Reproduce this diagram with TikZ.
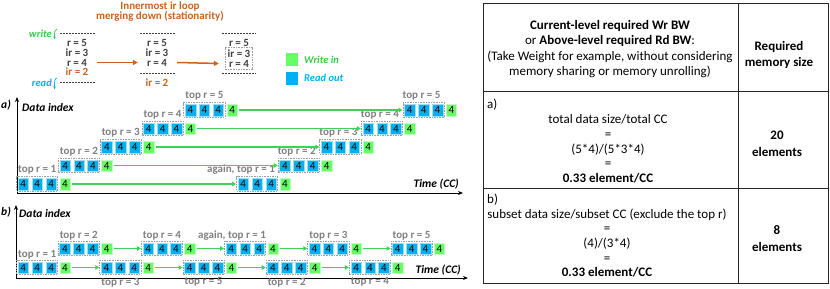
\documentclass[tikz,border=0pt]{standalone}
\usepackage{fontspec}
\setmainfont{Carlito}
\usetikzlibrary{arrows.meta,fit}
\definecolor{blueC}{HTML}{00B0F0}
\definecolor{greenC}{HTML}{66FF66}
\definecolor{greenL}{HTML}{3CD25A}
\definecolor{greenT}{HTML}{3CC84A}
\definecolor{orangeC}{HTML}{C8621E}
\definecolor{grayL}{HTML}{7F7F7F}
\definecolor{grayB}{HTML}{A0A0A0}
\definecolor{darkT}{HTML}{404040}
\newcommand{\myfs}[2]{\fontsize{#1}{#2}\selectfont}
\newcommand{\myblk}[3]{%
 \node[bsq] (#1a) at ({#2+5.25},{#3}) {4};
 \node[bsq] (#1b) at ({#2+19.15},{#3}) {4};
 \node[bsq] (#1c) at ({#2+33.05},{#3}) {4};
 \node[gsq] (#1g) at ({#2+46.95},{#3}) {4};
 \node[dbox, fit=(#1a)(#1c)] (#1x) {};
}
\tikzset{
 sq/.style={minimum width=10.5pt, minimum height=11.5pt, inner sep=0pt, font=\myfs{11}{11}},
 bsq/.style={sq, fill=blueC, draw=white!60!blueC, line width=0.4pt},
 gsq/.style={sq, fill=greenC, draw=white!60!greenC, line width=0.4pt},
 dbox/.style={draw=grayB, dash pattern=on 1.6pt off 1pt, line width=0.8pt, inner sep=1.3pt},
 toplab/.style={font=\bfseries\myfs{11}{11}, text=grayL, inner sep=0pt},
 garrow/.style={draw=greenL, line width=1.1pt, shorten <=1.5pt, -{Triangle[length=4pt,width=4.5pt]}},
 oarrow/.style={draw=orangeC, line width=1.5pt, -{Triangle[length=5pt,width=5pt]}},
 axis/.style={draw=black, line width=0.9pt, -{Stealth[length=5pt,width=4pt]}},
 coltxt/.style={font=\bfseries\myfs{11}{11}, text=darkT, inner sep=0pt, text height=7pt, text depth=0pt},
 sepline/.style={draw=darkT, line width=0.7pt, dash pattern=on 2pt off 1pt},
 axlab/.style={font=\bfseries\itshape\myfs{11.5}{11.5}, inner sep=0pt},
 tline/.style={draw=black!85, line width=0.8pt},
 ttxt/.style={align=center, inner sep=0pt},
}
\begin{document}
\begin{tikzpicture}[x=1pt,y=-1pt]
\useasboundingbox (0,0) rectangle (830,289);
% ---------- top: stationarity ----------
\node[font=\bfseries\myfs{11}{10}, text=orangeC, align=center, inner sep=0pt] (title) at (160,12) {Innermost ir loop\\merging down (stationarity)};
% column 1
\node[coltxt] (c1r5) at (77,43) {r = 5};
\node[coltxt] (c1i3) at (77,53) {ir = 3};
\node[coltxt] (c1r4) at (77,62.5) {r = 4};
\node[coltxt, text=orangeC] (c1i2) at (77,72) {ir = 2};
\draw[sepline] (60,33) -- (95,33);
\draw[sepline] (60,82) -- (95,82);
% column 2
\node[coltxt] (c2r5) at (157,43) {r = 5};
\node[coltxt] (c2i3) at (157,53) {ir = 3};
\node[coltxt] (c2r4) at (157,62.5) {r = 4};
\node[coltxt, text=orangeC] (c2i2) at (157,82.5) {ir = 2};
\draw[sepline] (140,33) -- (175,33);
\draw[sepline] (140,73) -- (175,73);
% column 3
\node[coltxt] (c3r5) at (239,43) {r = 5};
\node[coltxt] (c3i3) at (239,53.5) {ir = 3};
\node[coltxt] (c3r4) at (239,63.5) {r = 4};
\node[dbox, inner sep=2.3pt, fit=(c3i3)(c3r4)] (c3box) {};
\draw[sepline] (222,33) -- (256,33);
\draw[sepline] (222,73) -- (256,73);
% orange arrows
\draw[oarrow] ([xshift=10pt]c1r4.east) -- ([xshift=-9pt]c2r4.west);
\draw[oarrow] ([xshift=10pt]c2r4.east) -- ([xshift=-10pt]c3r4.west);
% write / read
\node[font=\bfseries\itshape\myfs{10.5}{10.5}, text=greenT, anchor=east, inner sep=0pt] (wr) at (52,34) {write};
\node[font=\bfseries\itshape\myfs{10.5}{10.5}, text=blueC, anchor=east, inner sep=0pt] (rd) at (52,83) {read};
\coordinate (wrA) at (57,29);
\coordinate (wrB) at (54.5,39);
\coordinate (rdA) at (57,78);
\coordinate (rdB) at (54.5,89);
\draw[draw=greenT, line width=0.7pt, -{Stealth[length=2.5pt,width=2.5pt]}] (wrA) .. controls (54.5,29.5) and (54.5,32) .. (wrB);
\draw[draw=blueC, line width=0.7pt, -{Stealth[length=2.5pt,width=2.5pt]}] (rdA) .. controls (54.5,78.5) and (54.5,81) .. (rdB);
% legend
\node[fill=greenC, minimum width=12pt, minimum height=13pt, inner sep=0pt] (lgG) at (292,59.5) {};
\node[fill=blueC, minimum width=12pt, minimum height=13pt, inner sep=0pt] (lgB) at (292,78) {};
\node[font=\bfseries\itshape\myfs{10.5}{10.5}, text=greenT, anchor=west, inner sep=0pt] (lgGt) at (304,60) {Write in};
\node[font=\bfseries\itshape\myfs{10.5}{10.5}, text=blueC, anchor=west, inner sep=0pt] (lgBt) at (304,78) {Read out};
% ---------- part a ----------
\coordinate (aO) at (17,193);
\coordinate (aY) at (17,97);
\coordinate (aX) at (463,193);
\draw[axis] (aO) -- (aY);
\draw[axis] (aO) -- (aX);
\node[axlab, anchor=west] (alab) at (1,105) {a)};
\node[axlab, anchor=west] (ady) at (22,108) {Data index};
\node[axlab, anchor=east] (atm) at (459,184) {Time (CC)};
\foreach \i in {0,...,4} {
 \pgfmathsetmacro{\xa}{18+41.8*\i}
 \pgfmathsetmacro{\xb}{238+41.6*\i}
 \pgfmathsetmacro{\yy}{184-18.5*\i}
 \pgfmathtruncatemacro{\rr}{\i+1}
 \myblk{aA\i}{\xa}{\yy}
 \myblk{aB\i}{\xb}{\yy}
 \node[toplab, anchor=south] (aAl\i) at ([yshift=1.5pt]aA\i x.north) {top r = \rr};
 \ifnum\i=0
  \node[toplab, anchor=south east] (aBl\i) at ([yshift=1.5pt, xshift=-3pt]aB\i x.north east) {again, top r = \rr};
 \else
  \node[toplab, anchor=south] (aBl\i) at ([yshift=1.5pt, xshift=-2pt]aB\i x.north) {top r = \rr};
 \fi
 \draw[garrow] (aA\i g.east) -- (aB\i x.west);
}
% ---------- part b ----------
\coordinate (bO) at (16,278);
\coordinate (bY) at (16,205);
\coordinate (bX) at (468,278);
\draw[axis] (bO) -- (bY);
\draw[axis] (bO) -- (bX);
\node[axlab, anchor=west] (blab) at (1,212) {b)};
\node[axlab, anchor=west] (bdy) at (19,214) {Data index};
\node[axlab, anchor=east] (btm) at (461,270) {Time (CC)};
\foreach \k in {0,...,9} {
 \pgfmathsetmacro{\xk}{18+41.6*\k}
 \ifodd\k \def\yk{248.5}\else\def\yk{267.5}\fi
 \myblk{b\k}{\xk}{\yk}
}
\foreach \k [evaluate=\k as \kk using int(\k+2)] in {0,...,7} {
 \draw[garrow] (b\k g.east) -- (b\kk x.west);
}
\node[toplab, anchor=south] (bl0) at ([yshift=0.5pt]b0x.north) {top r = 1};
\node[toplab, anchor=south] (bl1) at ([yshift=0.5pt]b1x.north) {top r = 2};
\node[toplab, anchor=north] (bl2) at ([yshift=-2.5pt]b2x.south) {top r = 3};
\node[toplab, anchor=south] (bl3) at ([yshift=0.5pt]b3x.north) {top r = 4};
\node[toplab, anchor=north] (bl4) at ([yshift=-2.5pt]b4x.south) {top r = 5};
\node[toplab, anchor=south east] (bl5) at ([yshift=0.5pt]b5x.north east) {again, top r = 1};
\node[toplab, anchor=north] (bl6) at ([yshift=-2.5pt]b6x.south) {top r = 2};
\node[toplab, anchor=south] (bl7) at ([yshift=0.5pt]b7x.north) {top r = 3};
\node[toplab, anchor=north] (bl8) at ([yshift=-2.5pt]b8x.south) {top r = 4};
\node[toplab, anchor=south] (bl9) at ([yshift=0.5pt]b9x.north) {top r = 5};
% ---------- table ----------
\draw[tline] (483,3) rectangle (828,283);
\draw[tline] (738,3) -- (738,283);
\draw[tline] (483,91) -- (828,91);
\draw[tline] (483,188) -- (828,188);
\node[ttxt, font=\myfs{13}{15.5}] (hd) at (610,49) {\textbf{Current-level required Wr BW}\\or \textbf{Above-level required Rd BW}:\\(Take Weight for example, without considering\\memory sharing or memory unrolling)};
\node[ttxt, font=\bfseries\myfs{13}{16}] (hd2) at (779,55) {Required\\memory size};
\node[ttxt, anchor=west, font=\myfs{13}{13}] (ra) at (487,105) {a)};
\node[ttxt, font=\myfs{13}{14.7}] (rat) at (608,149) {total data size/total CC\\=\\(5*4)/(5*3*4)\\=\\\textbf{0.33 element/CC}};
\node[ttxt, font=\bfseries\myfs{13}{17}] (ras) at (777,143.5) {20\\elements};
\node[ttxt, anchor=west, font=\myfs{13}{13}] (rb) at (487,200) {b)};
\node[ttxt, font=\myfs{13}{14.7}] (rbt) at (607,243) {subset data size/subset CC (exclude the top r)\\=\\(4)/(3*4)\\=\\\textbf{0.33 element/CC}};
\node[ttxt, font=\bfseries\myfs{13}{17}] (rbs) at (777,238.5) {8\\elements};
\end{tikzpicture}
\end{document}
